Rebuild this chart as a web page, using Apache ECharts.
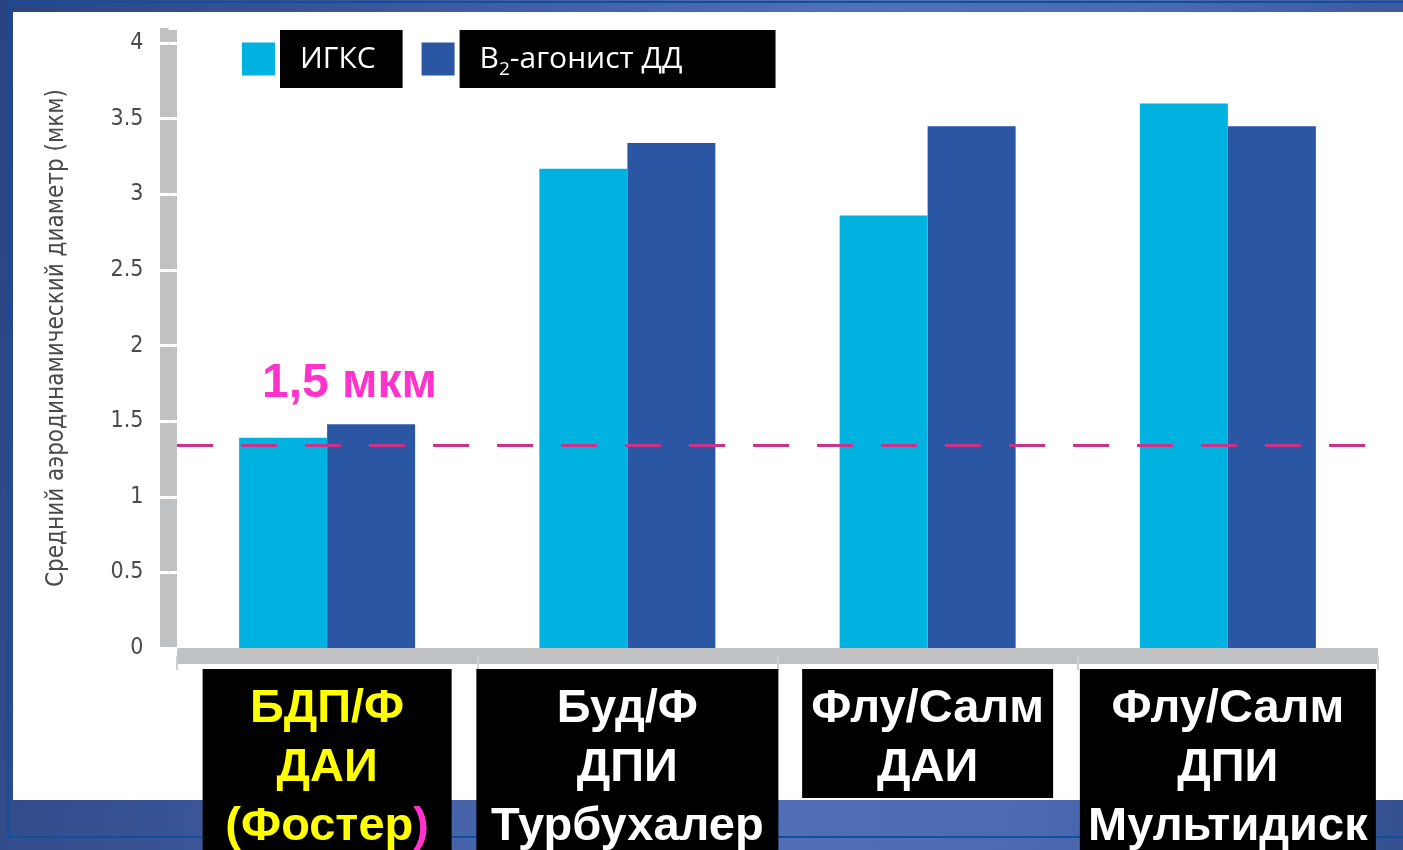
<!DOCTYPE html>
<html>
<head>
<meta charset="utf-8">
<script src="https://cdn.jsdelivr.net/npm/echarts@6/dist/echarts.min.js"></script>
<style>
  html, body { margin: 0; padding: 0; width: 1403px; height: 850px; overflow: hidden; }
  body { background: linear-gradient(100deg, #2c4381 0%, #3f5ca0 30%, #5270b8 55%, #4c6ab2 75%, #34508f 100%); position: relative; }
  #frame { position: absolute; left: 7px; top: 1px; width: 1420px; height: 833px; border-left: 2px solid #0f4f9d; border-top: 2px solid #0f4f9d; border-bottom: 2px solid #0f4f9d; }
  #panel { position: absolute; left: 13px; top: 12px; width: 1390px; height: 788px; background: #fff; }
  #chart { position: absolute; left: 0; top: 0; width: 1403px; height: 850px; }
</style>
</head>
<body>
<div id="frame"></div>
<div id="panel"></div>
<div id="chart"></div>
<script>
// ---- data ----
const categories = ['БДП/Ф ДАИ (Фостер)', 'Буд/Ф ДПИ Турбухалер', 'Флу/Салм ДАИ', 'Флу/Салм ДПИ Мультидиск'];
const seriesNames = ['ИГКС', 'В2-агонист ДД'];
const igksValues = [1.39, 3.17, 2.86, 3.60];
const betaValues = [1.48, 3.34, 3.45, 3.45];
const thresholdValue = 1.34;
const thresholdText = '1,5 мкм';
const yAxisTitle = 'Средний аэродинамический диаметр (мкм)';
const yMin = 0, yMax = 4.1, yInterval = 0.5;

const catLabelRich = [
  '{y1|БДП/Ф}\n{y1|ДАИ}\n{y3|(Фостер}{m3|)}',
  '{w2|Буд/Ф}\n{w2|ДПИ}\n{w2|Турбухалер}',
  '{w3|Флу/Салм}\n{w3|ДАИ}',
  '{w4|Флу/Салм}\n{w4|ДПИ}\n{w4|Мультидиск}'
];

const narrowFont = '"DejaVu Sans Condensed", "Roboto", sans-serif';
const bold = { fontFamily: 'Liberation Sans', fontWeight: 'bold', fontSize: 47, lineHeight: 59, align: 'center' };

const chart = echarts.init(document.getElementById('chart'), null, { renderer: 'canvas' });
const option = {
  animation: false,
  backgroundColor: 'transparent',
  grid: { left: 177, right: 25, top: 28, bottom: 202, containLabel: false, outerBoundsMode: 'none' },
  legend: {
    left: 242, top: 30, padding: 0,
    itemWidth: 33, itemHeight: 33, itemGap: 19,
    icon: 'rect',
    data: seriesNames,
    formatter: function (name) {
      if (name === seriesNames[0]) return '{t|ИГКС}';
      return '{t|В}{s|2}{t|-агонист ДД}{e| }';
    },
    textStyle: {
      color: '#fff', backgroundColor: '#000', padding: [13, 27, 13, 20],
      fontFamily: 'Open Sans', fontSize: 30, lineHeight: 32,
      rich: {
        t: { color: '#fff', fontFamily: 'Open Sans', fontSize: 30, lineHeight: 32 },
        s: { color: '#fff', fontFamily: 'Open Sans', fontSize: 19, lineHeight: 32, verticalAlign: 'bottom', padding: [0, 0, -4, 0] },
        e: { width: 66, fontSize: 30, lineHeight: 32 }
      }
    }
  },
  xAxis: {
    type: 'category',
    data: categories,
    offset: 8,
    axisLine: { show: true, onZero: false, lineStyle: { color: '#c0c1c3', width: 16, cap: 'butt' } },
    axisTick: { show: true, length: 14, alignWithLabel: false, lineStyle: { color: '#cfd0d2', width: 2 } },
    axisLabel: {
      interval: 0, margin: 13,
      backgroundColor: '#000', padding: [11, 0, 0, 0],
      formatter: function (v, i) { return catLabelRich[i]; },
      rich: {
        y1: Object.assign({}, bold, { color: '#ffff00', width: 249 }),
        y3: Object.assign({}, bold, { color: '#ffff00' }),
        m3: Object.assign({}, bold, { color: '#ff33cc' }),
        w2: Object.assign({}, bold, { color: '#fff', width: 302 }),
        w3: Object.assign({}, bold, { color: '#fff', width: 251 }),
        w4: Object.assign({}, bold, { color: '#fff', width: 296 })
      }
    },
    splitLine: { show: false }
  },
  yAxis: [
    {
      type: 'value', min: yMin, max: yMax, interval: yInterval,
      position: 'left', offset: 8.5,
      name: yAxisTitle, nameLocation: 'middle', nameGap: 100, nameRotate: 90,
      nameTextStyle: { color: '#4a4a4a', fontSize: 24, fontFamily: narrowFont },
      axisLine: { show: true, onZero: false, lineStyle: { color: '#c0c1c3', width: 17, cap: 'butt' } },
      axisTick: { show: true, inside: false, length: 9, lineStyle: { color: '#fff', width: 3 } },
      axisLabel: { margin: 25, color: '#4a4a4a', fontSize: 23, fontFamily: narrowFont, showMaxLabel: false },
      splitLine: { show: false }
    },
    {
      type: 'value', min: yMin, max: yMax, interval: yInterval,
      position: 'left', offset: 8.5, z: 3,
      axisLine: { show: false, onZero: false },
      axisTick: { show: true, inside: true, length: 9, lineStyle: { color: '#fff', width: 3 } },
      axisLabel: { show: false },
      splitLine: { show: false }
    }
  ],
  series: [
    {
      name: seriesNames[0], type: 'bar', data: igksValues,
      barWidth: 88, barGap: '0%',
      itemStyle: { color: '#00b2e0' },
      markLine: {
        silent: true, symbol: ['none', 'none'],
        label: { show: false },
        lineStyle: { color: '#c8348a', width: 3, type: [36, 28] },
        data: [{ yAxis: thresholdValue }]
      },
      z: 2
    },
    {
      name: seriesNames[1], type: 'bar', data: betaValues,
      barWidth: 88, barGap: '0%',
      itemStyle: { color: '#2a56a4' },
      z: 1
    }
  ],
  graphic: [
    {
      type: 'text', left: 262, top: 360, z: 10,
      style: { text: thresholdText, fill: '#ff33cc', font: 'bold 48px "Liberation Sans"' }
    }
  ]
};
chart.setOption(option);
</script>
</body>
</html>
